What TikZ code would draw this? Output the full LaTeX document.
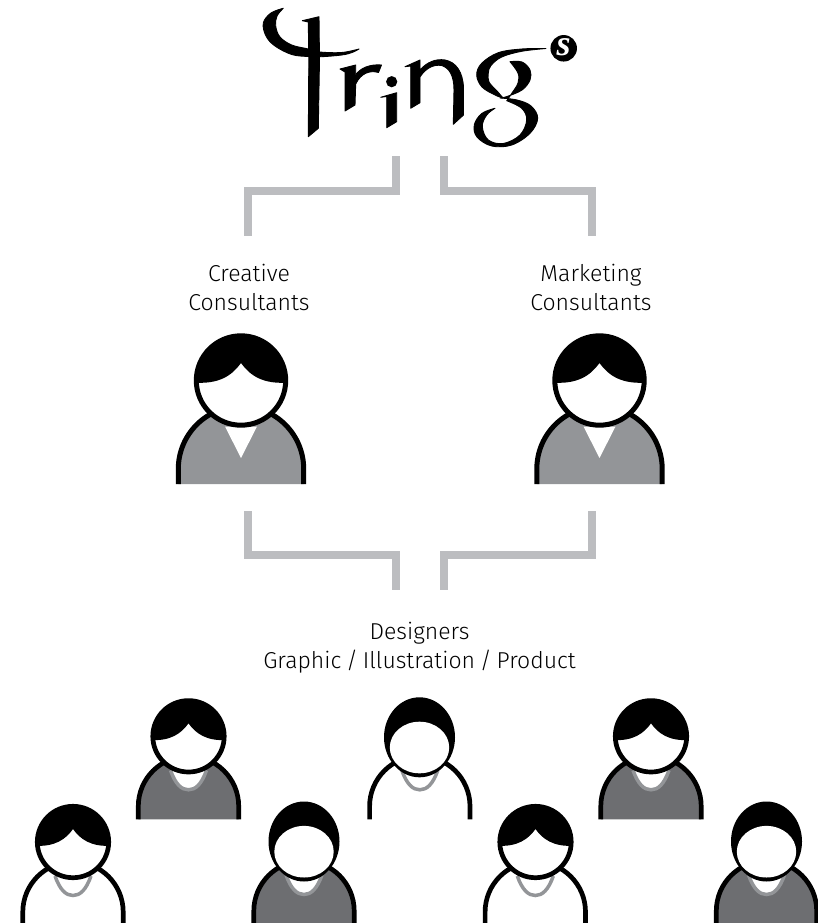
\documentclass[tikz,border=0pt]{standalone}
\usepackage{fontspec}
\setmainfont{Fira Sans}[UprightFont=* Light,WordSpace=0.75]
\newfontfamily\badgefont{Liberation Serif}
\definecolor{bracketgrey}{HTML}{BCBDC0}
\definecolor{midgrey}{HTML}{939598}
\definecolor{darkgrey}{HTML}{6D6E71}
\tikzset{
  bracket/.style={draw=bracketgrey,line width=8pt,miter limit=10},
  caption/.style={align=center,font=\fontsize{23}{29}\selectfont,inner sep=0pt,text=black},
  logoink/.style={fill=black,draw=black,line width=.9pt,line join=round},
  outlineb/.style={draw=black,line width=5pt},
  outlined/.style={draw=black,line width=4.7pt},
  necklace/.style={draw=midgrey,line width=3.5pt,fill=white}
}
% designer body: centre x, head centre y, fill colour
\newcommand{\dbody}[3]{%
  \begin{scope}[shift={(#1,#2)}]
    \fill[#3] (-50.2,83) -- (-50.2,70) arc[start angle=180,end angle=360,radius=50.2] -- (50.2,83) -- cycle;
    \draw[necklace] (-18,34) .. controls (-13,48) and (-7,53.5) .. (0,53.5) .. controls (7,53.5) and (13,48) .. (18,34);
    \draw[outlined] (-50.2,83) -- (-50.2,70) arc[start angle=180,end angle=360,radius=50.2] -- (50.2,83);
  \end{scope}}
% head with parted hair
\newcommand{\dheadA}[2]{%
  \begin{scope}[shift={(#1,#2)}]
    \fill[white] (0,0) circle[radius=35.7];
    \begin{scope}
      \clip (0,0) circle[radius=35.7];
      \fill[black] (-38,3.7) .. controls (-18,5) and (-7,-3) .. (0,-13) .. controls (7,-3) and (18,5) .. (38,3.7) -- (38,-38) -- (-38,-38) -- cycle;
    \end{scope}
    \draw[outlined] (0,0) circle[radius=35.7];
  \end{scope}}
% head with round hair
\newcommand{\dheadB}[2]{%
  \begin{scope}[shift={(#1,#2)}]
    \fill[black] (0,0) ellipse[x radius=35.5,y radius=40];
    \fill[white] (0,10.2) ellipse[x radius=29.7,y radius=25.8];
  \end{scope}}
% consultant figure
\newcommand{\consultant}[2]{%
  \begin{scope}[shift={(#1,#2)}]
    \fill[midgrey] (-62.7,103.5) -- (-62.7,88.5) arc[start angle=180,end angle=360,radius=62.7] -- (62.7,103.5) -- cycle;
    \fill[white] (-16,46) -- (0,77.5) -- (16,46) -- cycle;
    \draw[outlineb] (-62.7,103.5) -- (-62.7,88.5) arc[start angle=180,end angle=360,radius=62.7] -- (62.7,103.5);
    \fill[white] (0,0) circle[radius=44.7];
    \begin{scope}
      \clip (0,0) circle[radius=44.7];
      \fill[black] (-47,2) .. controls (-22,4) and (-9,-5) .. (0,-17.5) .. controls (9,-5) and (22,4) .. (47,2) -- (47,-47) -- (-47,-47) -- cycle;
    \end{scope}
    \draw[outlineb] (0,0) circle[radius=44.7];
  \end{scope}}
\begin{document}
\begin{tikzpicture}[x=1pt,y=-1pt]
\useasboundingbox (0,0) rectangle (818,923);
% ---- logo artwork
\path[logoink] plot[smooth,tension=.6] coordinates {(283.3,8.3)(271,13)(263.3,23)(266,36)(275,46)(291.7,54.5)(308,56.5)(320,56.8)(341.7,55)(352,52.5)(359,49)}
  -- plot[smooth,tension=.6] coordinates {(359,49)(341.7,52.5)(320,52)(308.3,49)(291.7,45)(280,37)(275.7,26)(277,16)(283.3,8.3)} -- cycle;
\path[logoink] (302.3,20.7) -- (319,16.7) -- (319.5,60) -- (318.3,128.3) -- (308.3,136.7) -- (308.8,60) -- (308.3,22) -- cycle;
\path[logoink] (340,69) -- (355.7,65) -- (355.7,75)
  .. controls (360,68) and (370,64) .. (381.5,65) -- (378.5,72.5) .. controls (370,70) and (361,73) .. (355.7,84)
  -- (355,105) -- (345,111) -- (345,72) -- cycle;
\fill[black] (391.7,81.7) circle[radius=5.6];
\path[logoink] (380.7,97.3) -- (396.7,92.7) -- (396.7,121.7) -- (386.7,127.7) -- (386.7,96.5) -- cycle;
\path[logoink] (405,66.7) -- (420,60) -- (420,70)
  .. controls (427,62) and (436,58.5) .. (445,60) .. controls (456,62) and (463,72) .. (463.5,88)
  -- (463.5,115) -- (453.3,124.3) -- (454,90) .. controls (454,75) and (449,68) .. (441.7,65.5) .. controls (433,64) and (425,69) .. (420,77)
  -- (420,102.7) -- (410.7,108.3) -- (410.7,66) -- cycle;
% g: upper C with hairline
\path[logoink] plot[smooth,tension=.6] coordinates {(546,48.5)(521.7,49)(498.3,52.7)(481.7,63.3)(476.7,75)(482,87)(495,95)(503,98)}
  -- plot[smooth,tension=.6] coordinates {(503,98)(497,91)(489,82)(488.3,73)(491,65.5)(501.7,57)(521.7,51.3)(546,48.5)} -- cycle;
% g: inner stroke and lower bowl
\path[logoink] plot[smooth,tension=.6] coordinates {(510,61.7)(522,62)(530,70)(530,80)(522,90)(507,96.5)(500,98)}
  -- plot[smooth,tension=.6] coordinates {(500,98)(517,100)(531,106)(537.7,118.3)(530,133.3)(511.7,145)(491.7,146)(477,137)(474.3,125)(481.7,113.5)(495,108.3)}
  -- plot[smooth,tension=.6] coordinates {(495,108.3)(486.7,115)(482.3,126.7)(488.3,140)(503.3,143.5)(520,135)(526.7,120)(521.7,108.3)(506.7,100.7)}
  -- plot[smooth,tension=.6] coordinates {(506.7,100.7)(512,93)(518,83)(518,73)(510,61.7)} -- cycle;
\node[circle,fill=black,minimum size=26.5pt,inner sep=0pt,text=white,font=\badgefont\bfseries\itshape\fontsize{36}{36}\selectfont] (badge) at (563.7,48.3) {\raisebox{3pt}{s}};
% ---- brackets
\coordinate (tl) at (396,156);
\coordinate (tlb) at (248,236);
\coordinate (tr) at (444,156);
\coordinate (trb) at (592,236);
\draw[bracket] (tl) -- (396,191) -- (248,191) -- (tlb);
\draw[bracket] (tr) -- (444,191) -- (592,191) -- (trb);
\coordinate (bl) at (247.5,511);
\coordinate (blb) at (396,590);
\coordinate (br) at (592,511);
\coordinate (brb) at (444,590);
\draw[bracket] (bl) -- (247.5,555) -- (396,555) -- (blb);
\draw[bracket] (br) -- (592,555) -- (444,555) -- (brb);
% ---- captions
\node[caption] (creative) at (249,287) {Creative\\Consultants};
\node[caption] (marketing) at (591,287) {Marketing\\Consultants};
\node[caption] (designers) at (419.5,648) {Designers\\Graphic / Illustration / Product};
% ---- people
\consultant{241}{380.5}
\consultant{599.5}{380.5}
\dbody{188.5}{736.3}{darkgrey}\dheadA{188.5}{736.3}
\dbody{419.8}{736.3}{white}\dheadB{419.5}{737.3}
\dbody{651}{736.3}{darkgrey}\dheadA{651}{736.3}
\dbody{73}{842}{white}\dheadA{73}{842}
\dbody{304}{841}{darkgrey}\dheadB{304}{841.5}
\dbody{535.3}{842}{white}\dheadA{535.5}{842}
\dbody{766.5}{841}{darkgrey}\dheadB{766.5}{841.5}
\end{tikzpicture}
\end{document}
